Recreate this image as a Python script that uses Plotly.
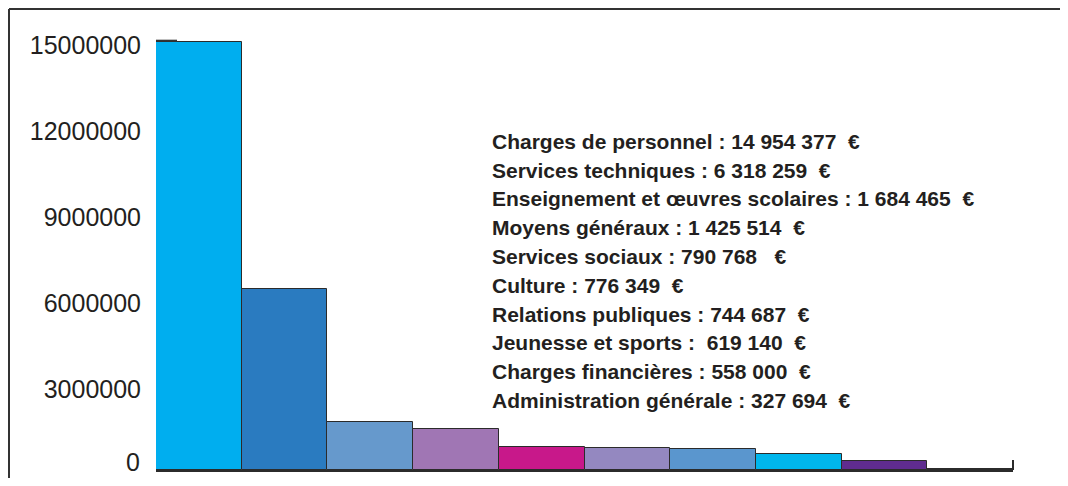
import plotly.graph_objects as go

# Data
categories = [
    "Charges de personnel", "Services techniques", "Enseignement et œuvres scolaires",
    "Moyens généraux", "Services sociaux", "Culture", "Relations publiques",
    "Jeunesse et sports", "Charges financières", "Administration générale",
]
amount_text = [
    "14 954 377", "6 318 259", "1 684 465", "1 425 514", "790 768",
    "776 349", "744 687", "619 140", "558 000", "327 694",
]
# bar heights
bar_values = [14954377, 6318259, 1684465, 1425514, 790768, 760000, 730000, 550000, 310000, 50000]
bar_colors = ["#00AEEF", "#2A7BC0", "#6699CC", "#A076B4", "#C8188A",
              "#9488C0", "#5A96CE", "#00B6EC", "#5F2C8F", "#2E2A5A"]
y_ticks = [0, 3000000, 6000000, 9000000, 12000000, 15000000]

NB = "\u00a0"
sep_after_colon = [" ", " ", " ", " ", " ", " ", " ", "  ", " ", " "]
sep_before_euro = ["  ", "  ", "  ", "  ", "   ", "  ", "  ", "  ", "  ", "  "]
lines = [
    f"{c} :{s1}{a}{s2}€".replace(" ", NB)
    for c, a, s1, s2 in zip(categories, amount_text, sep_after_colon, sep_before_euro)
]

# The figure sits inside the default 8px body margin; size it so the page is exactly 1068x486.
OFF = 8
PAGE_W, PAGE_H = 1068, 486
W, H = PAGE_W - 2 * OFF, PAGE_H - 2 * OFF
L, R = 156, 1013          # plot area, page px
TOP, BASE = 30, 470       # plot area, page px
pw, ph = R - L, BASE - TOP
px_per_unit = (BASE - 42) / 14954377
y_top = ph / px_per_unit

def px_x(x):
    return (x - L) / pw

def px_y(y):
    return (BASE - y) / ph

TICK_FONT = dict(family="Liberation Sans", size=25, color="#231F20")

fig = go.Figure()
fig.add_trace(go.Bar(
    x=list(range(len(bar_values))),
    y=bar_values,
    marker=dict(color=bar_colors, line=dict(color="#2b2b2b", width=1)),
    width=1,
    hoverinfo="skip",
))

annotations = []
for i, t in enumerate(lines):
    yc = 141.5 + i * 28.75
    annotations.append(dict(
        x=px_x(490), y=px_y(yc), xref="paper", yref="paper",
        xanchor="left", yanchor="middle", showarrow=False,
        text="<b>" + t + "</b>",
        font=dict(family="Liberation Sans", size=21, color="#231F20"),
    ))
# the "0" tick label sits a little above the baseline in the original
annotations.append(dict(
    x=0, y=y_ticks[0], xref="paper", yref="y", xanchor="right", yanchor="middle",
    xshift=-14, yshift=8, showarrow=False, text=str(y_ticks[0]), font=TICK_FONT,
))

shapes = [
    dict(type="line", xref="paper", yref="paper", x0=px_x(9), x1=px_x(PAGE_W), y0=px_y(9), y1=px_y(9),
         line=dict(color="#333333", width=2)),
    dict(type="line", xref="paper", yref="paper", x0=px_x(9), x1=px_x(9), y0=px_y(9), y1=px_y(PAGE_H),
         line=dict(color="#333333", width=2)),
    dict(type="line", xref="paper", yref="paper", x0=1, x1=1, y0=0, y1=px_y(460),
         line=dict(color="#2b2b2b", width=2)),
    # short axis remnant at the 15 000 000 level
    dict(type="line", xref="paper", yref="y", x0=0, x1=px_x(177), y0=y_ticks[-1], y1=y_ticks[-1],
         line=dict(color="#333333", width=2)),
]

fig.update_layout(
    width=W, height=H,
    margin=dict(l=L - OFF, r=(PAGE_W - OFF) - R, t=TOP - OFF, b=(PAGE_H - OFF) - BASE, pad=0),
    paper_bgcolor="white", plot_bgcolor="white",
    showlegend=False, bargap=0,
    annotations=annotations, shapes=shapes,
    xaxis=dict(range=[-0.5, len(bar_values) - 0.5], showticklabels=False, showgrid=False,
               zeroline=False, showline=True, linecolor="#2b2b2b", linewidth=2, ticks=""),
    yaxis=dict(range=[0, y_top], tickvals=y_ticks[1:], ticktext=[str(v) for v in y_ticks[1:]],
               showgrid=False, zeroline=False, showline=False, ticks="",
               tickfont=TICK_FONT, ticklabelstandoff=14, ticklabelshift=5),
)

fig.write_html("out.html", config={"displayModeBar": False})
